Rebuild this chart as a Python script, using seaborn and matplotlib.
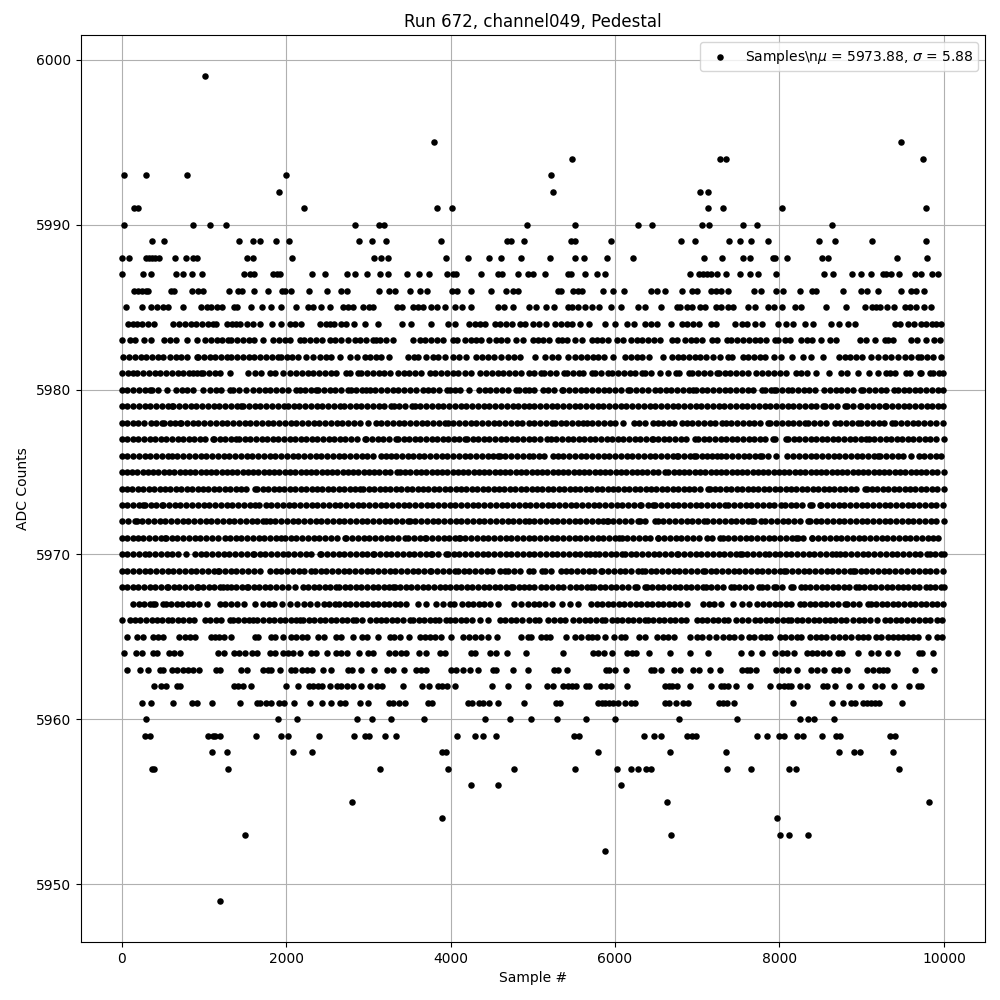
import pandas as pd
import matplotlib
matplotlib.use("Agg")
import matplotlib.pyplot as plt
import seaborn as sns

# sample numbers, one list per ADC level
s_5949 = [1200]
s_5952 = [5874]
s_5953 = [1503, 6677, 8001, 8122, 8353]
s_5954 = [3896, 7976]
s_5955 = [2803, 6628, 9823]
s_5956 = [4248, 4577, 6069]
s_5957 = [373, 397, 1296, 3143, 3969, 4771, 5510, 6020, 6190, 6275, 6373, 6433, 7357, 7660, 8122, 8207, 9459]
s_5958 = [1102, 1284, 2086, 2317, 3896, 3945, 5789, 6664, 7345, 8730, 8912, 8985, 9384]
s_5959 = [288, 348, 1053, 1114, 1138, 1199, 1636, 1940, 2025, 2402, 2827, 2961, 3009, 3204, 3338, 4078, 4297, 4394, 4552, 5498, 5559, 6348, 6470, 6555, 6870, 6932, 6980, 7733, 7843, 7989, 8061, 8219, 8292, 8523, 8693, 8742, 9349, 9410]
s_5960 = [300, 1904, 2134, 2863, 3046, 3276, 3677, 4423, 4722, 4975, 5291, 5644, 5996, 6773, 7490, 8256, 8353, 8426, 8669]
s_5961 = [251, 360, 628, 859, 911, 1102, 1442, 1648, 1685, 1758, 1818, 1916, 1976, 2098, 2292, 2438, 2547, 2657, 2717, 2900, 2997, 3252, 3301, 3374, 3447, 3726, 3775, 4212, 4260, 4345, 4394, 4467, 4577, 4892, 5279, 5328, 5789, 5838, 5880, 5923, 5972, 6032, 6117, 6190, 6239, 6603, 6652, 6737, 6822, 6883, 7260, 7308, 7357, 7442, 8159, 8645, 8778, 8875, 8924, 9021, 9070, 9118, 9167, 9216, 9495]
s_5962 = [397, 482, 543, 676, 709, 1369, 1417, 1478, 1575, 2001, 2147, 2280, 2329, 2390, 2438, 2535, 2620, 2669, 2742, 2815, 2912, 3021, 3106, 3163, 3427, 3653, 3738, 3847, 3896, 3957, 4054, 4503, 4698, 4941, 5174, 5243, 5364, 5425, 5474, 5522, 5644, 5680, 5826, 5887, 5947, 6142, 6603, 6652, 6689, 6749, 6907, 7162, 7284, 7320, 7369, 7466, 7636, 7891, 7997, 8061, 8110, 8146, 8256, 8341, 8535, 8584, 8681, 8851, 8997, 9167, 9252, 9398, 9580, 9689, 9726]
s_5963 = [69, 227, 324, 470, 506, 616, 676, 749, 810, 871, 944, 1150, 1199, 1454, 1527, 1721, 1782, 1818, 1928, 2061, 2110, 2195, 2256, 2317, 2450, 2547, 2754, 2803, 2912, 3070, 3228, 3301, 3435, 3581, 3641, 3702, 4005, 4066, 4151, 4236, 4333, 4516, 4552, 4755, 4941, 5255, 5303, 5413, 5887, 5923, 5996, 6130, 6433, 6470, 6555, 6713, 6786, 6944, 7017, 7150, 7272, 7539, 7600, 7636, 7721, 7964, 8037, 8110, 8219, 8389, 8462, 8547, 8669, 8730, 8827, 9070, 9143, 9216, 9264, 9313, 9653, 9884]
s_5964 = [32, 178, 243, 385, 433, 579, 636, 713, 1174, 1247, 1369, 1430, 1503, 1587, 1648, 1806, 1867, 1964, 2025, 2086, 2171, 2304, 2365, 2499, 2608, 2669, 2742, 2888, 2997, 3058, 3252, 3325, 3398, 3459, 3617, 3702, 3872, 3933, 4248, 4297, 4480, 4552, 4686, 4917, 5364, 5729, 5789, 5862, 5959, 6142, 6202, 6251, 6409, 6664, 6907, 7126, 7527, 7660, 7782, 7952, 8037, 8098, 8183, 8341, 8402, 8462, 8535, 8608, 8717, 8766, 8961, 9118, 9204, 9325, 9434, 9701, 9738, 9872]
s_5965 = [69, 190, 263, 385, 445, 506, 700, 773, 834, 895, 1089, 1138, 1187, 1247, 1332, 1624, 1660, 1818, 1867, 1964, 2061, 2122, 2195, 2256, 2390, 2462, 2608, 2669, 2815, 2924, 2985, 3119, 3264, 3313, 3382, 3495, 3629, 3689, 3750, 3811, 3884, 4005, 4151, 4224, 4297, 4370, 4455, 4564, 4856, 4941, 4975, 5097, 5158, 5206, 5400, 5510, 5583, 5668, 5717, 5777, 5874, 5984, 6069, 6117, 6288, 6360, 6506, 6579, 6640, 6713, 6907, 6992, 7053, 7138, 7223, 7308, 7381, 7442, 7527, 7624, 7685, 7770, 7831, 7891, 8012, 8073, 8146, 8219, 8268, 8377, 8450, 8511, 8572, 8657, 8730, 8802, 8875, 8961, 9021, 9082, 9180, 9240, 9325, 9386, 9447, 9507, 9568, 9629, 9689, 9811, 9921, 9981]
s_5966 = [0, 105, 162, 228, 296, 365, 430, 497, 560, 607, 688, 750, 815, 878, 1012, 1080, 1146, 1214, 1316, 1356, 1420, 1488, 1555, 1600, 1648, 1721, 1790, 1855, 1922, 1990, 2055, 2122, 2167, 2207, 2275, 2342, 2408, 2476, 2544, 2610, 2678, 2745, 2810, 2855, 2928, 3017, 3098, 3159, 3220, 3288, 3355, 3420, 3503, 3544, 3612, 3680, 3745, 3807, 3860, 3949, 3989, 4055, 4122, 4190, 4258, 4354, 4455, 4597, 4665, 4732, 4800, 4868, 4950, 5030, 5080, 5190, 5260, 5328, 5392, 5494, 5562, 5630, 5697, 5765, 5838, 5878, 5960, 6020, 6088, 6155, 6222, 6290, 6365, 6397, 6465, 6532, 6600, 6668, 6735, 6802, 6859, 6992, 7053, 7120, 7188, 7255, 7320, 7377, 7466, 7539, 7612, 7700, 7768, 7835, 7902, 7970, 8038, 8106, 8146, 8213, 8280, 8348, 8415, 8482, 8550, 8612, 8673, 8745, 8815, 8896, 8965, 9032, 9100, 9191, 9280, 9348, 9415, 9482, 9550, 9625, 9694, 9767, 9827, 9921, 9981]
s_5967 = [142, 210, 278, 345, 385, 405, 506, 535, 602, 670, 738, 805, 872, 940, 1033, 1195, 1262, 1330, 1398, 1486, 1624, 1721, 1790, 1851, 1948, 2045, 2130, 2215, 2288, 2372, 2458, 2523, 2590, 2645, 2714, 2782, 2850, 2918, 2985, 3052, 3120, 3188, 3255, 3322, 3390, 3463, 3605, 3706, 3827, 3910, 3990, 4038, 4143, 4210, 4278, 4345, 4412, 4480, 4577, 4771, 4860, 4941, 5010, 5078, 5145, 5230, 5352, 5450, 5555, 5704, 5777, 5845, 5912, 5980, 6048, 6115, 6182, 6250, 6318, 6385, 6452, 6520, 6588, 6655, 6722, 6790, 6871, 7073, 7140, 7208, 7288, 7438, 7539, 7628, 7733, 7806, 7874, 7941, 8008, 8076, 8144, 8248, 8304, 8369, 8436, 8504, 8572, 8640, 8707, 8795, 8827, 8895, 8962, 9078, 9110, 9178, 9245, 9312, 9380, 9448, 9515, 9582, 9650, 9718, 9785, 9852, 9920, 9990]
s_5968 = [0, 68, 136, 204, 272, 340, 408, 476, 547, 567, 635, 702, 770, 838, 911, 923, 990, 1058, 1126, 1194, 1235, 1276, 1325, 1392, 1460, 1519, 1539, 1606, 1674, 1742, 1810, 1878, 1946, 2025, 2106, 2207, 2268, 2336, 2404, 2472, 2540, 2612, 2645, 2712, 2780, 2848, 2916, 2984, 3052, 3120, 3188, 3256, 3301, 3321, 3388, 3456, 3524, 3592, 3660, 3728, 3795, 3868, 3935, 3990, 4062, 4130, 4198, 4266, 4334, 4402, 4470, 4538, 4606, 4674, 4738, 4759, 4827, 4895, 4950, 5018, 5100, 5158, 5230, 5303, 5364, 5453, 5521, 5589, 5657, 5708, 5745, 5813, 5881, 5949, 6017, 6085, 6153, 6243, 6271, 6365, 6385, 6453, 6521, 6589, 6657, 6725, 6793, 6861, 6929, 6997, 7073, 7105, 7173, 7241, 7309, 7409, 7446, 7514, 7582, 7650, 7754, 7782, 7850, 7936, 7964, 8032, 8138, 8166, 8268, 8308, 8376, 8444, 8512, 8580, 8648, 8716, 8784, 8852, 8936, 8964, 9032, 9100, 9168, 9236, 9304, 9372, 9440, 9503, 9564, 9632, 9700, 9787, 9827, 9895, 9963, 9999]
s_5969 = [0, 70, 140, 210, 280, 350, 420, 490, 560, 630, 700, 770, 840, 910, 980, 1050, 1120, 1175, 1187, 1257, 1327, 1397, 1467, 1537, 1607, 1681, 1802, 1872, 1942, 2012, 2082, 2152, 2222, 2308, 2349, 2419, 2489, 2559, 2629, 2699, 2769, 2839, 2909, 2979, 3049, 3119, 3189, 3259, 3329, 3399, 3469, 3539, 3609, 3679, 3746, 3767, 3837, 3907, 3977, 4050, 4090, 4160, 4230, 4300, 4370, 4440, 4510, 4597, 4657, 4700, 4770, 4840, 4950, 5000, 5117, 5150, 5220, 5340, 5400, 5470, 5540, 5610, 5680, 5750, 5830, 5846, 5916, 5986, 6056, 6126, 6196, 6283, 6332, 6364, 6434, 6504, 6574, 6644, 6714, 6784, 6854, 6924, 6994, 7073, 7094, 7164, 7234, 7304, 7374, 7444, 7514, 7584, 7654, 7724, 7794, 7864, 7934, 8004, 8057, 8085, 8155, 8225, 8295, 8365, 8435, 8505, 8575, 8645, 8715, 8785, 8855, 8896, 8916, 8986, 9056, 9126, 9196, 9266, 9336, 9406, 9476, 9546, 9625, 9702, 9767, 9837, 9907, 9990]
s_5970 = [0, 70, 140, 210, 284, 336, 406, 476, 546, 616, 686, 782, 891, 961, 1031, 1101, 1171, 1241, 1311, 1381, 1451, 1521, 1600, 1608, 1678, 1748, 1818, 1888, 1958, 2028, 2098, 2168, 2238, 2308, 2410, 2430, 2500, 2570, 2640, 2710, 2780, 2850, 2920, 2990, 3058, 3070, 3140, 3210, 3280, 3350, 3420, 3490, 3560, 3630, 3700, 3767, 3779, 3849, 3950, 3969, 4039, 4109, 4179, 4249, 4319, 4389, 4459, 4529, 4599, 4669, 4739, 4809, 4879, 4950, 5020, 5090, 5160, 5230, 5300, 5370, 5440, 5510, 5580, 5650, 5696, 5757, 5806, 5876, 5946, 6016, 6089, 6121, 6191, 6261, 6331, 6401, 6471, 6541, 6611, 6681, 6757, 6770, 6840, 6910, 6980, 7050, 7120, 7190, 7260, 7330, 7400, 7470, 7519, 7539, 7609, 7679, 7749, 7819, 7871, 7944, 8005, 8075, 8145, 8215, 8285, 8355, 8425, 8495, 8565, 8635, 8693, 8733, 8803, 8873, 8943, 9013, 9083, 9153, 9223, 9293, 9363, 9433, 9503, 9573, 9643, 9713, 9800, 9827, 9897, 9967, 9999]
s_5971 = [0, 70, 140, 194, 263, 333, 403, 473, 527, 539, 609, 679, 749, 819, 889, 959, 1029, 1099, 1169, 1255, 1316, 1386, 1456, 1526, 1596, 1666, 1736, 1806, 1876, 1944, 1984, 2054, 2124, 2194, 2264, 2334, 2404, 2474, 2544, 2614, 2714, 2734, 2804, 2874, 2944, 3014, 3084, 3154, 3224, 3294, 3364, 3443, 3483, 3553, 3623, 3686, 3706, 3776, 3846, 3916, 3986, 4056, 4103, 4111, 4181, 4251, 4321, 4391, 4461, 4531, 4601, 4671, 4741, 4811, 4881, 4950, 5020, 5090, 5160, 5230, 5300, 5370, 5440, 5510, 5580, 5650, 5720, 5790, 5860, 5930, 6000, 6049, 6081, 6151, 6221, 6291, 6361, 6431, 6518, 6527, 6597, 6667, 6737, 6807, 6877, 6947, 7017, 7114, 7174, 7276, 7308, 7378, 7448, 7518, 7588, 7658, 7728, 7798, 7868, 7938, 8008, 8078, 8148, 8207, 8220, 8290, 8390, 8402, 8472, 8542, 8612, 8682, 8752, 8822, 8892, 8962, 9032, 9102, 9172, 9242, 9312, 9382, 9452, 9522, 9592, 9662, 9732, 9802, 9868, 9924]
s_5972 = [5, 75, 162, 182, 252, 322, 392, 462, 532, 602, 672, 742, 812, 882, 952, 1022, 1092, 1162, 1232, 1302, 1372, 1442, 1512, 1582, 1652, 1722, 1762, 1800, 1870, 1940, 2010, 2080, 2150, 2220, 2290, 2360, 2430, 2500, 2570, 2640, 2710, 2780, 2850, 2920, 2990, 3060, 3130, 3200, 3270, 3340, 3410, 3483, 3503, 3573, 3643, 3713, 3783, 3853, 3923, 3993, 4063, 4133, 4203, 4273, 4343, 4413, 4483, 4553, 4623, 4693, 4763, 4833, 4903, 4950, 5020, 5090, 5160, 5230, 5300, 5370, 5440, 5510, 5580, 5650, 5720, 5790, 5860, 5900, 5910, 5980, 6050, 6120, 6190, 6283, 6300, 6370, 6486, 6520, 6590, 6660, 6730, 6800, 6870, 6940, 7010, 7085, 7125, 7195, 7265, 7335, 7405, 7475, 7545, 7615, 7669, 7685, 7774, 7830, 7900, 7970, 8040, 8110, 8180, 8250, 8349, 8369, 8439, 8509, 8579, 8649, 8719, 8789, 8859, 8929, 8999, 9069, 9139, 9209, 9279, 9349, 9419, 9489, 9559, 9629, 9699, 9769, 9839, 9909, 9999]
s_5973 = [0, 70, 140, 210, 263, 283, 353, 423, 486, 506, 576, 646, 716, 786, 856, 926, 996, 1066, 1136, 1206, 1276, 1346, 1416, 1486, 1556, 1626, 1672, 1750, 1820, 1890, 1960, 2030, 2100, 2170, 2240, 2310, 2380, 2450, 2520, 2590, 2660, 2730, 2800, 2870, 2940, 3010, 3080, 3150, 3220, 3290, 3360, 3430, 3500, 3570, 3640, 3710, 3780, 3850, 3920, 3990, 4060, 4130, 4200, 4270, 4340, 4410, 4480, 4550, 4620, 4690, 4760, 4830, 4900, 4970, 5040, 5110, 5180, 5250, 5320, 5390, 5460, 5530, 5600, 5670, 5740, 5810, 5880, 5950, 6020, 6090, 6160, 6230, 6300, 6320, 6400, 6460, 6490, 6560, 6630, 6700, 6770, 6840, 6910, 6980, 7050, 7120, 7190, 7260, 7340, 7380, 7450, 7520, 7590, 7660, 7730, 7800, 7870, 7940, 8020, 8065, 8135, 8205, 8275, 8370, 8390, 8490, 8510, 8580, 8650, 8720, 8790, 8860, 8930, 9000, 9070, 9140, 9210, 9280, 9350, 9420, 9490, 9560, 9630, 9700, 9770, 9840, 9910, 9990]
s_5974 = [0, 66, 132, 198, 264, 330, 396, 462, 528, 594, 660, 726, 792, 858, 924, 990, 1056, 1122, 1188, 1254, 1320, 1386, 1452, 1518, 1620, 1650, 1716, 1782, 1848, 1914, 1980, 2046, 2112, 2178, 2244, 2310, 2376, 2442, 2508, 2574, 2640, 2706, 2772, 2838, 2895, 2940, 3006, 3072, 3138, 3204, 3270, 3336, 3402, 3468, 3534, 3600, 3666, 3732, 3798, 3864, 3930, 3996, 4062, 4128, 4194, 4260, 4326, 4392, 4458, 4524, 4590, 4656, 4722, 4788, 4854, 4920, 4986, 5052, 5118, 5184, 5250, 5316, 5382, 5448, 5514, 5580, 5646, 5712, 5778, 5844, 5910, 5976, 6042, 6108, 6174, 6240, 6306, 6372, 6438, 6504, 6570, 6636, 6702, 6768, 6834, 6900, 6966, 7032, 7134, 7150, 7216, 7282, 7348, 7414, 7480, 7546, 7612, 7678, 7744, 7810, 7876, 7942, 8008, 8074, 8140, 8206, 8272, 8338, 8404, 8470, 8536, 8602, 8668, 8734, 8800, 8866, 8932, 9037, 9060, 9126, 9192, 9258, 9324, 9390, 9456, 9522, 9588, 9654, 9720, 9786, 9852, 9918, 9999]
s_5975 = [0, 64, 128, 192, 256, 320, 384, 448, 512, 576, 640, 704, 768, 832, 896, 960, 1024, 1088, 1152, 1216, 1280, 1344, 1408, 1472, 1536, 1600, 1664, 1728, 1792, 1856, 1920, 1984, 2048, 2112, 2176, 2240, 2304, 2368, 2432, 2496, 2560, 2624, 2688, 2752, 2816, 2880, 2944, 3008, 3072, 3136, 3200, 3264, 3345, 3385, 3449, 3513, 3577, 3641, 3705, 3769, 3833, 3897, 3961, 4025, 4089, 4153, 4217, 4281, 4345, 4409, 4473, 4537, 4601, 4665, 4729, 4793, 4857, 4921, 4985, 5049, 5113, 5177, 5241, 5305, 5369, 5433, 5497, 5561, 5625, 5689, 5753, 5817, 5881, 5945, 6009, 6073, 6137, 6201, 6265, 6329, 6393, 6457, 6521, 6607, 6650, 6714, 6778, 6842, 6906, 6970, 7034, 7098, 7162, 7226, 7290, 7354, 7418, 7482, 7546, 7610, 7674, 7738, 7802, 7866, 7930, 7994, 8058, 8122, 8186, 8250, 8314, 8378, 8442, 8506, 8570, 8634, 8698, 8762, 8826, 8890, 8954, 9018, 9082, 9146, 9210, 9274, 9338, 9402, 9466, 9530, 9594, 9658, 9722, 9786, 9850, 9914, 9999]
s_5976 = [0, 70, 140, 210, 280, 350, 420, 490, 567, 607, 677, 747, 822, 891, 961, 1031, 1101, 1171, 1241, 1311, 1377, 1450, 1520, 1590, 1660, 1730, 1800, 1870, 1940, 2010, 2080, 2150, 2220, 2290, 2360, 2430, 2500, 2570, 2640, 2710, 2780, 2850, 2920, 2990, 3060, 3159, 3216, 3272, 3342, 3412, 3482, 3544, 3612, 3682, 3752, 3822, 3892, 3962, 4032, 4102, 4172, 4242, 4312, 4382, 4452, 4522, 4577, 4597, 4667, 4737, 4807, 4877, 4950, 5000, 5070, 5140, 5251, 5303, 5373, 5443, 5513, 5583, 5653, 5723, 5798, 5862, 5932, 6002, 6072, 6142, 6212, 6282, 6352, 6422, 6492, 6562, 6632, 6702, 6757, 6770, 6840, 6910, 6964, 6984, 7054, 7124, 7183, 7235, 7284, 7354, 7424, 7494, 7564, 7634, 7704, 7762, 7794, 7864, 7964, 8098, 8168, 8238, 8308, 8378, 8448, 8518, 8588, 8658, 8728, 8798, 8868, 8938, 9008, 9078, 9148, 9200, 9228, 9298, 9368, 9438, 9508, 9596, 9694, 9764, 9834, 9904, 9961]
s_5977 = [0, 68, 136, 204, 272, 340, 408, 476, 544, 612, 680, 748, 816, 884, 952, 1020, 1114, 1126, 1194, 1262, 1330, 1397, 1430, 1498, 1566, 1634, 1702, 1770, 1838, 1906, 1974, 2042, 2110, 2178, 2246, 2314, 2382, 2450, 2518, 2586, 2654, 2722, 2790, 2858, 2956, 2977, 3045, 3113, 3181, 3249, 3341, 3361, 3429, 3497, 3565, 3633, 3701, 3769, 3837, 3905, 3973, 4041, 4109, 4180, 4200, 4268, 4336, 4404, 4472, 4540, 4608, 4676, 4744, 4812, 4880, 4950, 5018, 5086, 5170, 5219, 5287, 5355, 5423, 5491, 5559, 5627, 5695, 5763, 5831, 5899, 5967, 6035, 6103, 6171, 6239, 6307, 6375, 6445, 6457, 6525, 6593, 6661, 6729, 6797, 6865, 6972, 7012, 7080, 7148, 7216, 7284, 7352, 7420, 7488, 7556, 7624, 7692, 7760, 7828, 7924, 7952, 8078, 8106, 8174, 8242, 8310, 8378, 8446, 8514, 8582, 8650, 8718, 8786, 8854, 8922, 8990, 9058, 9086, 9154, 9222, 9290, 9358, 9426, 9494, 9562, 9630, 9698, 9766, 9834, 9902, 9999]
s_5978 = [0, 70, 140, 194, 275, 352, 420, 486, 514, 584, 654, 709, 725, 795, 865, 935, 1005, 1075, 1145, 1215, 1285, 1355, 1425, 1495, 1565, 1635, 1705, 1775, 1845, 1915, 1985, 2055, 2125, 2195, 2265, 2335, 2405, 2475, 2545, 2615, 2685, 2755, 2825, 2895, 2997, 3090, 3160, 3230, 3300, 3370, 3440, 3510, 3580, 3650, 3720, 3790, 3860, 3929, 3965, 4035, 4105, 4175, 4245, 4315, 4385, 4455, 4525, 4595, 4665, 4735, 4805, 4875, 4950, 5020, 5090, 5160, 5239, 5270, 5340, 5410, 5480, 5550, 5615, 5656, 5726, 5796, 5866, 5936, 6006, 6101, 6227, 6297, 6367, 6458, 6518, 6583, 6653, 6723, 6818, 6870, 6940, 7010, 7080, 7150, 7220, 7296, 7345, 7415, 7485, 7555, 7625, 7695, 7765, 7863, 7891, 7961, 8031, 8101, 8171, 8241, 8308, 8353, 8423, 8493, 8563, 8673, 8742, 8812, 8882, 8956, 8997, 9067, 9137, 9207, 9277, 9370, 9410, 9480, 9550, 9620, 9690, 9760, 9830, 9900, 9990]
s_5979 = [0, 70, 140, 210, 280, 350, 420, 490, 560, 607, 628, 698, 768, 838, 908, 978, 1048, 1118, 1188, 1258, 1328, 1398, 1446, 1478, 1548, 1618, 1688, 1758, 1828, 1898, 1972, 2021, 2091, 2161, 2231, 2301, 2371, 2441, 2511, 2581, 2661, 2705, 2775, 2845, 2915, 2985, 3055, 3125, 3195, 3280, 3309, 3379, 3449, 3535, 3564, 3634, 3704, 3774, 3844, 3914, 3984, 4054, 4124, 4194, 4264, 4334, 4404, 4474, 4544, 4614, 4684, 4754, 4824, 4894, 4950, 5020, 5090, 5160, 5230, 5300, 5370, 5440, 5510, 5580, 5650, 5720, 5790, 5860, 5930, 6000, 6070, 6140, 6210, 6280, 6350, 6420, 6490, 6560, 6630, 6700, 6770, 6840, 6910, 6980, 7050, 7120, 7190, 7260, 7330, 7400, 7470, 7540, 7610, 7680, 7750, 7820, 7890, 7960, 8030, 8100, 8170, 8240, 8310, 8380, 8450, 8531, 8560, 8630, 8700, 8795, 8827, 8897, 8977, 8997, 9067, 9137, 9207, 9280, 9300, 9370, 9440, 9510, 9580, 9650, 9720, 9790, 9860, 9930, 9990]
s_5980 = [0, 70, 140, 210, 280, 344, 372, 442, 547, 660, 730, 800, 870, 992, 1073, 1143, 1213, 1316, 1356, 1426, 1510, 1600, 1670, 1740, 1810, 1880, 1950, 2020, 2126, 2166, 2236, 2306, 2361, 2390, 2460, 2530, 2600, 2670, 2754, 2795, 2855, 2925, 2969, 3017, 3087, 3157, 3227, 3297, 3367, 3437, 3507, 3577, 3665, 3726, 3787, 3857, 3957, 3989, 4059, 4111, 4224, 4345, 4415, 4485, 4555, 4625, 4695, 4799, 4831, 4901, 4950, 5020, 5130, 5190, 5263, 5352, 5372, 5442, 5512, 5582, 5652, 5722, 5792, 5862, 5932, 6002, 6072, 6162, 6182, 6252, 6324, 6397, 6486, 6551, 6616, 6686, 6756, 6826, 6896, 6952, 6984, 7054, 7124, 7194, 7264, 7334, 7404, 7474, 7544, 7614, 7684, 7782, 7822, 7892, 7936, 7964, 8034, 8106, 8155, 8225, 8295, 8365, 8435, 8543, 8612, 8682, 8752, 8822, 8892, 8997, 9017, 9087, 9157, 9232, 9300, 9394, 9442, 9512, 9576, 9645, 9715, 9785, 9855, 9925, 9990]
s_5981 = [5, 75, 142, 190, 260, 330, 400, 470, 540, 610, 680, 750, 820, 870, 911, 960, 992, 1062, 1132, 1202, 1316, 1539, 1620, 1690, 1802, 1863, 1964, 2053, 2123, 2193, 2263, 2333, 2403, 2473, 2543, 2613, 2734, 2774, 2875, 2916, 2986, 3056, 3126, 3196, 3266, 3361, 3430, 3500, 3570, 3645, 3746, 3816, 3886, 3956, 4026, 4096, 4171, 4252, 4362, 4432, 4502, 4572, 4642, 4712, 4782, 4852, 4950, 5020, 5101, 5142, 5212, 5282, 5384, 5417, 5487, 5567, 5615, 5717, 5757, 5827, 5911, 5968, 6038, 6108, 6178, 6248, 6324, 6365, 6435, 6547, 6640, 6737, 6778, 6899, 6940, 7010, 7080, 7150, 7235, 7264, 7334, 7404, 7474, 7544, 7614, 7721, 7794, 7864, 7934, 8004, 8074, 8199, 8268, 8338, 8442, 8604, 8746, 8816, 8957, 9094, 9200, 9300, 9341, 9411, 9544, 9584, 9709, 9726, 9827, 9868, 9938, 9990]
s_5982 = [20, 90, 160, 230, 300, 370, 440, 498, 587, 657, 727, 797, 911, 931, 1001, 1071, 1141, 1211, 1276, 1332, 1405, 1475, 1545, 1615, 1685, 1755, 1825, 1904, 1944, 2014, 2078, 2151, 2248, 2329, 2410, 2480, 2550, 2653, 2774, 2867, 2956, 3026, 3096, 3159, 3252, 3483, 3553, 3605, 3698, 3787, 3848, 3929, 4030, 4100, 4192, 4313, 4383, 4453, 4523, 4617, 4698, 4768, 4840, 5028, 5150, 5231, 5301, 5433, 5510, 5587, 5657, 5727, 5797, 5867, 5980, 6122, 6192, 6262, 6332, 6413, 6587, 6697, 6762, 6830, 6900, 6970, 7040, 7110, 7195, 7276, 7377, 7426, 7559, 7620, 7690, 7760, 7830, 7936, 8013, 8147, 8289, 8381, 8535, 8722, 8792, 8862, 8932, 9002, 9118, 9200, 9280, 9360, 9442, 9523, 9603, 9685, 9726, 9796, 9866, 9961]
s_5983 = [0, 101, 162, 271, 360, 518, 587, 657, 798, 919, 1012, 1082, 1154, 1215, 1296, 1336, 1406, 1476, 1546, 1616, 1721, 1843, 1913, 1983, 2053, 2167, 2215, 2296, 2365, 2438, 2531, 2601, 2671, 2754, 2835, 2905, 2975, 3058, 3090, 3139, 3216, 3301, 3544, 3625, 3695, 3765, 3835, 3905, 4030, 4074, 4175, 4252, 4313, 4374, 4467, 4556, 4617, 4687, 4799, 4880, 5000, 5069, 5130, 5200, 5312, 5352, 5422, 5514, 5595, 5717, 5777, 5846, 5919, 6020, 6101, 6194, 6264, 6334, 6404, 6474, 6544, 6689, 6749, 6850, 6920, 6990, 7060, 7174, 7235, 7357, 7417, 7487, 7557, 7627, 7697, 7767, 7837, 7944, 7985, 8065, 8126, 8260, 8330, 8400, 8511, 8612, 8693, 8985, 9058, 9159, 9280, 9321, 9386, 9604, 9674, 9787, 9876, 9957]
s_5984 = [81, 142, 182, 252, 322, 393, 628, 698, 768, 838, 908, 978, 1053, 1114, 1150, 1276, 1340, 1397, 1438, 1527, 1600, 1681, 1823, 1944, 2045, 2106, 2183, 2410, 2480, 2531, 2584, 2673, 2734, 2827, 2961, 3119, 3410, 3515, 3762, 3969, 4050, 4224, 4294, 4364, 4415, 4536, 4606, 4676, 4746, 4840, 4905, 5008, 5078, 5157, 5271, 5341, 5411, 5481, 5575, 5680, 5879, 6004, 6142, 6227, 6365, 6435, 6506, 6680, 6810, 6880, 6950, 7020, 7166, 7223, 7458, 7539, 7600, 7701, 7782, 7985, 8078, 8159, 8308, 8410, 8624, 8730, 8835, 8916, 9402, 9472, 9564, 9633, 9718, 9788, 9858, 9908, 9969]
s_5985 = [57, 251, 360, 433, 506, 567, 749, 968, 1033, 1085, 1154, 1215, 1369, 1405, 1575, 1709, 1818, 1940, 2122, 2268, 2329, 2426, 2535, 2693, 2754, 2815, 2936, 3009, 3058, 3349, 3410, 3544, 3605, 3665, 3762, 3835, 3936, 4054, 4139, 4248, 4577, 4649, 4755, 4949, 5036, 5157, 5255, 5425, 5474, 5546, 5632, 5717, 5802, 5947, 6069, 6275, 6360, 6555, 6749, 6790, 6870, 6932, 7029, 7089, 7223, 7284, 7369, 7430, 7612, 7697, 7855, 7940, 8037, 8195, 8268, 8572, 8815, 9046, 9131, 9180, 9228, 9313, 9398, 9531, 9592, 9665, 9762, 9847]
s_5986 = [154, 200, 250, 300, 325, 603, 636, 859, 931, 992, 1308, 1417, 1466, 1612, 1782, 1952, 1989, 2061, 2280, 2499, 2669, 2742, 3131, 3252, 3325, 3507, 3629, 3714, 4018, 4078, 4248, 4491, 4674, 4759, 4820, 5303, 5339, 5486, 5546, 5595, 5850, 5972, 6105, 6433, 6506, 6603, 6810, 6932, 6992, 7162, 7223, 7284, 7369, 7685, 7770, 7964, 8049, 8256, 8402, 8450, 8778, 8997, 9070, 9204, 9479, 9604, 9665, 9762]
s_5987 = [8, 263, 360, 664, 749, 859, 980, 1490, 1559, 1612, 1843, 1891, 1928, 2317, 2475, 2742, 2839, 2985, 3143, 3240, 3471, 3617, 3738, 3957, 4030, 4070, 4370, 4577, 4625, 4820, 4941, 5000, 5145, 5425, 5461, 5632, 5777, 5874, 6907, 7017, 7065, 7114, 7162, 7235, 7345, 7515, 7636, 7745, 7964, 8547, 8657, 8888, 8997, 9118, 9264, 9300, 9361, 9458, 9653, 9726, 9860, 9933]
s_5988 = [8, 93, 300, 336, 373, 409, 458, 652, 786, 867, 911, 1527, 1600, 2074, 3070, 3155, 3240, 3945, 4212, 4467, 4613, 4856, 5206, 5510, 5619, 5899, 6215, 7077, 7296, 7551, 7648, 7916, 7952, 8098, 8523, 8596, 9434, 9799]
s_5989 = [373, 518, 1430, 1600, 1685, 1879, 2037, 2888, 3046, 3216, 3884, 4686, 4734, 4892, 5461, 5518, 5947, 6798, 6968, 7381, 7515, 7660, 7867, 8487, 8681, 9131, 9787]
s_5990 = [32, 870, 1077, 1272, 2839, 3130, 3191, 4929, 5510, 6275, 6445, 7053, 7138, 7551, 7733, 8645]
s_5991 = [154, 202, 2220, 3835, 4018, 7126, 7308, 8037, 9787]
s_5992 = [1916, 5243, 7040, 7130]
s_5993 = [32, 300, 798, 2000, 5218]
s_5994 = [5473, 7272, 7345, 9750]
s_5995 = [3800, 9475]
s_5999 = [1017]

levels = {
    5949: s_5949, 5952: s_5952, 5953: s_5953, 5954: s_5954, 5955: s_5955, 5956: s_5956,
    5957: s_5957, 5958: s_5958, 5959: s_5959, 5960: s_5960, 5961: s_5961, 5962: s_5962,
    5963: s_5963, 5964: s_5964, 5965: s_5965, 5966: s_5966, 5967: s_5967, 5968: s_5968,
    5969: s_5969, 5970: s_5970, 5971: s_5971, 5972: s_5972, 5973: s_5973, 5974: s_5974,
    5975: s_5975, 5976: s_5976, 5977: s_5977, 5978: s_5978, 5979: s_5979, 5980: s_5980,
    5981: s_5981, 5982: s_5982, 5983: s_5983, 5984: s_5984, 5985: s_5985, 5986: s_5986,
    5987: s_5987, 5988: s_5988, 5989: s_5989, 5990: s_5990, 5991: s_5991, 5992: s_5992,
    5993: s_5993, 5994: s_5994, 5995: s_5995, 5999: s_5999,
}

rows = []
for adc, samples in levels.items():
    for s in samples:
        rows.append((s, adc))
df = pd.DataFrame(rows, columns=["sample", "adc"])

fig, ax = plt.subplots(figsize=(10, 10))
sns.scatterplot(data=df, x="sample", y="adc", color="k", s=22, linewidth=0, zorder=2, ax=ax,
                label=r"Samples\n$\mu$ = 5973.88, $\sigma$ = 5.88")
ax.set_xlim(-500, 10500)
ax.set_ylim(5946.5, 6001.5)
ax.set_xlabel("Sample #")
ax.set_ylabel("ADC Counts")
ax.set_title("Run 672, channel049, Pedestal")
ax.ticklabel_format(useOffset=False, axis="y")
ax.grid(True)
ax.legend(loc="upper right")
fig.subplots_adjust(left=0.0805, right=0.985, top=0.965, bottom=0.058)
plt.savefig("out.png", dpi=100)
